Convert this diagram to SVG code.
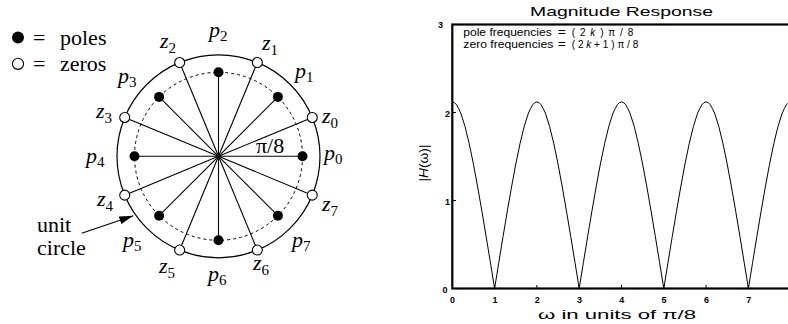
<svg xmlns="http://www.w3.org/2000/svg" xmlns:xlink="http://www.w3.org/1999/xlink" width="788" height="324" viewBox="0 0 788 324">
<style>
.lbl{font-family:"Liberation Serif","Times New Roman",serif;font-style:italic;font-size:22px;fill:#000}
.sub{font-style:normal;font-size:15px}
.rom{font-family:"Liberation Serif","Times New Roman",serif;font-size:22px;fill:#000}
.spoke{stroke:#000;stroke-width:1.1;fill:none}
.zero{fill:#fff;stroke:#000;stroke-width:1.1}
.pole{fill:#000}
.pt{font-family:"Liberation Sans",Arial,sans-serif;fill:#000}
.leg{font-family:"Liberation Sans",Arial,sans-serif;font-size:10px;fill:#000}
.tick{font-family:"Liberation Sans",Arial,sans-serif;font-weight:bold;font-size:9px;fill:#000}
.ax{stroke:#000;stroke-width:2.2;fill:none}
.tk{stroke:#000;stroke-width:1}
</style>
<defs>
<marker id="ah" viewBox="0 0 14 8" refX="14" refY="4" markerWidth="14" markerHeight="8" markerUnits="userSpaceOnUse" orient="auto">
<path d="M0,0 L14,4 L0,8 Z" fill="#000"/>
</marker>
<clipPath id="plotclip"><rect x="452.3" y="20" width="340" height="270"/></clipPath>
<path id="arch" d="M-42.3,288.5 L-38.07,262.4 L-33.84,236.5 L-29.61,211.3 L-25.38,187.0 L-21.15,164.2 L-16.92,143.8 L-12.69,126.4 L-8.46,113.1 L-6.35,108.6 L-4.23,104.8 L-2.12,102.6 L0,101.9 L2.12,102.6 L4.23,104.8 L6.35,108.6 L8.46,113.1 L12.69,126.4 L16.92,143.8 L21.15,164.2 L25.38,187.0 L29.61,211.3 L33.84,236.5 L38.07,262.4 L42.3,288.5" fill="none" stroke="#000" stroke-width="1"/>
</defs>

<g id="legend">
<circle cx="18" cy="37.5" r="6" class="pole"/>
<text x="33" y="44.5" class="rom">=</text>
<text x="60" y="44.5" class="rom">poles</text>
<circle cx="18" cy="63.8" r="5.6" class="zero"/>
<text x="33" y="71" class="rom">=</text>
<text x="60" y="71" class="rom">zeros</text>
</g>

<g id="unit-circle">
<circle cx="218.5" cy="156.3" r="101.5" fill="none" stroke="#000" stroke-width="1.2"/>
<circle cx="218.5" cy="156.3" r="84" fill="none" stroke="#000" stroke-width="1" stroke-dasharray="3,3"/>
</g>

<g id="connectors">
<line class="spoke" x1="218.5" y1="156.3" x2="312.27" y2="117.46"/>
<line class="spoke" x1="218.5" y1="156.3" x2="257.34" y2="62.53"/>
<line class="spoke" x1="218.5" y1="156.3" x2="179.66" y2="62.53"/>
<line class="spoke" x1="218.5" y1="156.3" x2="124.73" y2="117.46"/>
<line class="spoke" x1="218.5" y1="156.3" x2="124.73" y2="195.14"/>
<line class="spoke" x1="218.5" y1="156.3" x2="179.66" y2="250.07"/>
<line class="spoke" x1="218.5" y1="156.3" x2="257.34" y2="250.07"/>
<line class="spoke" x1="218.5" y1="156.3" x2="312.27" y2="195.14"/>
<line class="spoke" x1="218.5" y1="156.3" x2="302.5" y2="156.3"/>
<line class="spoke" x1="218.5" y1="156.3" x2="277.9" y2="96.9"/>
<line class="spoke" x1="218.5" y1="156.3" x2="218.5" y2="72.3"/>
<line class="spoke" x1="218.5" y1="156.3" x2="159.1" y2="96.9"/>
<line class="spoke" x1="218.5" y1="156.3" x2="134.5" y2="156.3"/>
<line class="spoke" x1="218.5" y1="156.3" x2="159.1" y2="215.7"/>
<line class="spoke" x1="218.5" y1="156.3" x2="218.5" y2="240.3"/>
<line class="spoke" x1="218.5" y1="156.3" x2="277.9" y2="215.7"/>
<line x1="81.7" y1="233.3" x2="133.3" y2="215.7" stroke="#000" stroke-width="1.1" marker-end="url(#ah)"/>
</g>

<g id="z0"><circle class="zero" cx="312.27" cy="117.46" r="5"/><text class="lbl" x="322" y="123">z<tspan class="sub" dy="5">0</tspan></text></g>
<g id="z1"><circle class="zero" cx="257.34" cy="62.53" r="5"/><text class="lbl" x="262" y="50">z<tspan class="sub" dy="5">1</tspan></text></g>
<g id="z2"><circle class="zero" cx="179.66" cy="62.53" r="5"/><text class="lbl" x="160" y="48">z<tspan class="sub" dy="5">2</tspan></text></g>
<g id="z3"><circle class="zero" cx="124.73" cy="117.46" r="5"/><text class="lbl" x="96" y="118">z<tspan class="sub" dy="5">3</tspan></text></g>
<g id="z4"><circle class="zero" cx="124.73" cy="195.14" r="5"/><text class="lbl" x="97" y="206">z<tspan class="sub" dy="5">4</tspan></text></g>
<g id="z5"><circle class="zero" cx="179.66" cy="250.07" r="5"/><text class="lbl" x="159" y="273">z<tspan class="sub" dy="5">5</tspan></text></g>
<g id="z6"><circle class="zero" cx="257.34" cy="250.07" r="5"/><text class="lbl" x="253" y="270">z<tspan class="sub" dy="5">6</tspan></text></g>
<g id="z7"><circle class="zero" cx="312.27" cy="195.14" r="5"/><text class="lbl" x="322" y="211">z<tspan class="sub" dy="5">7</tspan></text></g>

<g id="p0"><circle class="pole" cx="302.5" cy="156.3" r="5"/><text class="lbl" x="324" y="160">p<tspan class="sub" dy="4">0</tspan></text></g>
<g id="p1"><circle class="pole" cx="277.9" cy="96.9" r="5"/><text class="lbl" x="295" y="78">p<tspan class="sub" dy="4">1</tspan></text></g>
<g id="p2"><circle class="pole" cx="218.5" cy="72.3" r="5"/><text class="lbl" x="209" y="37">p<tspan class="sub" dy="4">2</tspan></text></g>
<g id="p3"><circle class="pole" cx="159.1" cy="96.9" r="5"/><text class="lbl" x="118" y="83">p<tspan class="sub" dy="4">3</tspan></text></g>
<g id="p4"><circle class="pole" cx="134.5" cy="156.3" r="5"/><text class="lbl" x="86" y="163">p<tspan class="sub" dy="4">4</tspan></text></g>
<g id="p5"><circle class="pole" cx="159.1" cy="215.7" r="5"/><text class="lbl" x="123" y="247">p<tspan class="sub" dy="4">5</tspan></text></g>
<g id="p6"><circle class="pole" cx="218.5" cy="240.3" r="5"/><text class="lbl" x="208" y="281">p<tspan class="sub" dy="4">6</tspan></text></g>
<g id="p7"><circle class="pole" cx="277.9" cy="215.7" r="5"/><text class="lbl" x="292" y="247">p<tspan class="sub" dy="4">7</tspan></text></g>

<g id="labels">
<text class="rom" x="256" y="153" font-size="20">π/8</text>
<text class="rom" x="37" y="231.5" font-size="23">unit</text>
<text class="rom" x="37" y="255" font-size="23">circle</text>
</g>

<g id="plot">
<text class="pt" x="621.5" y="16" font-size="13" text-anchor="middle" textLength="183" lengthAdjust="spacingAndGlyphs">Magnitude Response</text>
<g clip-path="url(#plotclip)">
<use xlink:href="#arch" x="452.3"/>
<use xlink:href="#arch" x="536.9"/>
<use xlink:href="#arch" x="621.5"/>
<use xlink:href="#arch" x="706.1"/>
<use xlink:href="#arch" x="790.7"/>
</g>
<rect class="ax" x="452.3" y="24.5" width="338.4" height="264"/>
<g id="ticks">
<line class="tk" x1="494.6" y1="288.5" x2="494.6" y2="285"/>
<line class="tk" x1="536.9" y1="288.5" x2="536.9" y2="285"/>
<line class="tk" x1="579.2" y1="288.5" x2="579.2" y2="285"/>
<line class="tk" x1="621.5" y1="288.5" x2="621.5" y2="285"/>
<line class="tk" x1="663.8" y1="288.5" x2="663.8" y2="285"/>
<line class="tk" x1="706.1" y1="288.5" x2="706.1" y2="285"/>
<line class="tk" x1="748.4" y1="288.5" x2="748.4" y2="285"/>
<line class="tk" x1="452.3" y1="200.5" x2="456" y2="200.5"/>
<line class="tk" x1="452.3" y1="112.5" x2="456" y2="112.5"/>
</g>
<text class="tick" x="447.5" y="292.5" text-anchor="end">0</text>
<text class="tick" x="450" y="204.5" text-anchor="end">1</text>
<text class="tick" x="450" y="117" text-anchor="end">2</text>
<text class="tick" x="443" y="27.5" text-anchor="end">3</text>
<text class="tick" x="452.6" y="303" text-anchor="middle">0</text>
<text class="tick" x="494.9" y="303" text-anchor="middle">1</text>
<text class="tick" x="537.2" y="303" text-anchor="middle">2</text>
<text class="tick" x="579.5" y="303" text-anchor="middle">3</text>
<text class="tick" x="621.8" y="303" text-anchor="middle">4</text>
<text class="tick" x="664.1" y="303" text-anchor="middle">5</text>
<text class="tick" x="706.4" y="303" text-anchor="middle">6</text>
<text class="tick" x="748.7" y="303" text-anchor="middle">7</text>
<text class="tick" x="790.5" y="303" text-anchor="middle">8</text>
<text class="leg" x="463.3" y="36.3" textLength="88.4" lengthAdjust="spacingAndGlyphs">pole frequencies</text>
<text class="leg" x="557.7" y="36.3" textLength="8" lengthAdjust="spacingAndGlyphs">=</text>
<text class="leg" x="571.7" y="36.3" font-size="11" textLength="61.6" lengthAdjust="spacing">(2<tspan font-style="italic">k</tspan>)π/8</text>
<text class="leg" x="463.3" y="47.6" textLength="90" lengthAdjust="spacingAndGlyphs">zero frequencies</text>
<text class="leg" x="557.7" y="47.6" textLength="8" lengthAdjust="spacingAndGlyphs">=</text>
<text class="leg" x="571.7" y="47.6" font-size="11" textLength="66.6" lengthAdjust="spacing">(2<tspan font-style="italic">k</tspan>+1)π/8</text>
<text class="pt" x="617" y="319" font-size="13" text-anchor="middle" textLength="158" lengthAdjust="spacingAndGlyphs">ω in units of π/8</text>
<text class="pt" font-size="12" text-anchor="middle" transform="translate(428,163) rotate(-90)" textLength="37" lengthAdjust="spacingAndGlyphs">|<tspan font-style="italic">H</tspan>(ω)|</text>
</g>
</svg>
